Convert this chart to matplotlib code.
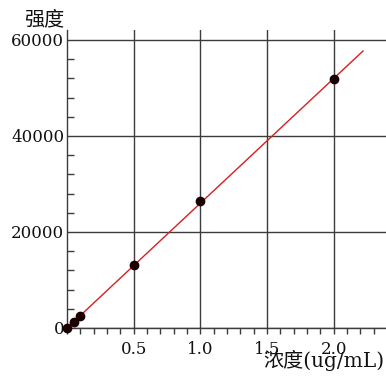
import matplotlib
matplotlib.use("Agg")
import matplotlib.pyplot as plt
from matplotlib.ticker import MultipleLocator, FixedLocator

# data
conc = [0.0, 0.05, 0.1, 0.5, 1.0, 2.0]
intensity = [0, 1300, 2600, 13100, 26400, 51800]
fit_x = [0.0, 2.22]
fit_y = [0, 57700]
xticks = [0.5, 1.0, 1.5, 2.0]
xtick_labels = ["0.5", "1.0", "1.5", "2.0"]
yticks = [0, 20000, 40000, 60000]
ytick_labels = ["0", "20000", "40000", "60000"]

W, H = 386, 376
fig = plt.figure(figsize=(W / 100, H / 100), dpi=100)
left, right, bottom, top = 67, 386, 328, 30
ax = fig.add_axes([left / W, (H - bottom) / H, (right - left) / W, (bottom - top) / H])
ax.set_xlim(0, 2.3925)
ax.set_ylim(0, 62080)

grid_c = "#3c3c3c"
for s in ["top", "right"]:
    ax.spines[s].set_visible(False)
for s in ["left", "bottom"]:
    ax.spines[s].set_color(grid_c)
    ax.spines[s].set_linewidth(1.0)

ax.xaxis.set_major_locator(FixedLocator(xticks))
ax.set_xticklabels(xtick_labels)
ax.xaxis.set_minor_locator(MultipleLocator(0.1))
ax.yaxis.set_major_locator(FixedLocator(yticks))
ax.set_yticklabels(ytick_labels)
ax.yaxis.set_minor_locator(MultipleLocator(4000))

ax.tick_params(axis="x", which="major", direction="out", length=4, width=1, color=grid_c, pad=5)
ax.tick_params(axis="x", which="minor", direction="out", length=4, width=1, color=grid_c)
ax.tick_params(axis="y", which="major", direction="in", length=0, width=1, color=grid_c, pad=2)
ax.tick_params(axis="y", which="minor", direction="in", length=5, width=1, color=grid_c)

for lab in ax.get_xticklabels() + ax.get_yticklabels():
    lab.set_fontfamily("DejaVu Serif")
    lab.set_fontsize(12)
    lab.set_color("#111111")

ax.grid(True, which="major", color=grid_c, linewidth=1.0)
ax.set_axisbelow(True)

ax.plot(fit_x, fit_y, color="#d42020", linewidth=1.0, zorder=3)
ax.plot(conc, intensity, "o", color="#1a0000", markersize=6, zorder=4, clip_on=False)

fam = ["DejaVu Serif", "Noto Sans CJK SC"]
fig.text(384 / W, 1 - 360 / H, "浓度(ug/mL)", ha="right", va="center", fontsize=14.5, family=fam, color="#111111")
fig.text(44 / W, 1 - 20 / H, "强度", ha="center", va="center", fontsize=14.5, family=fam, color="#111111")

fig.savefig("out.png", dpi=100)
